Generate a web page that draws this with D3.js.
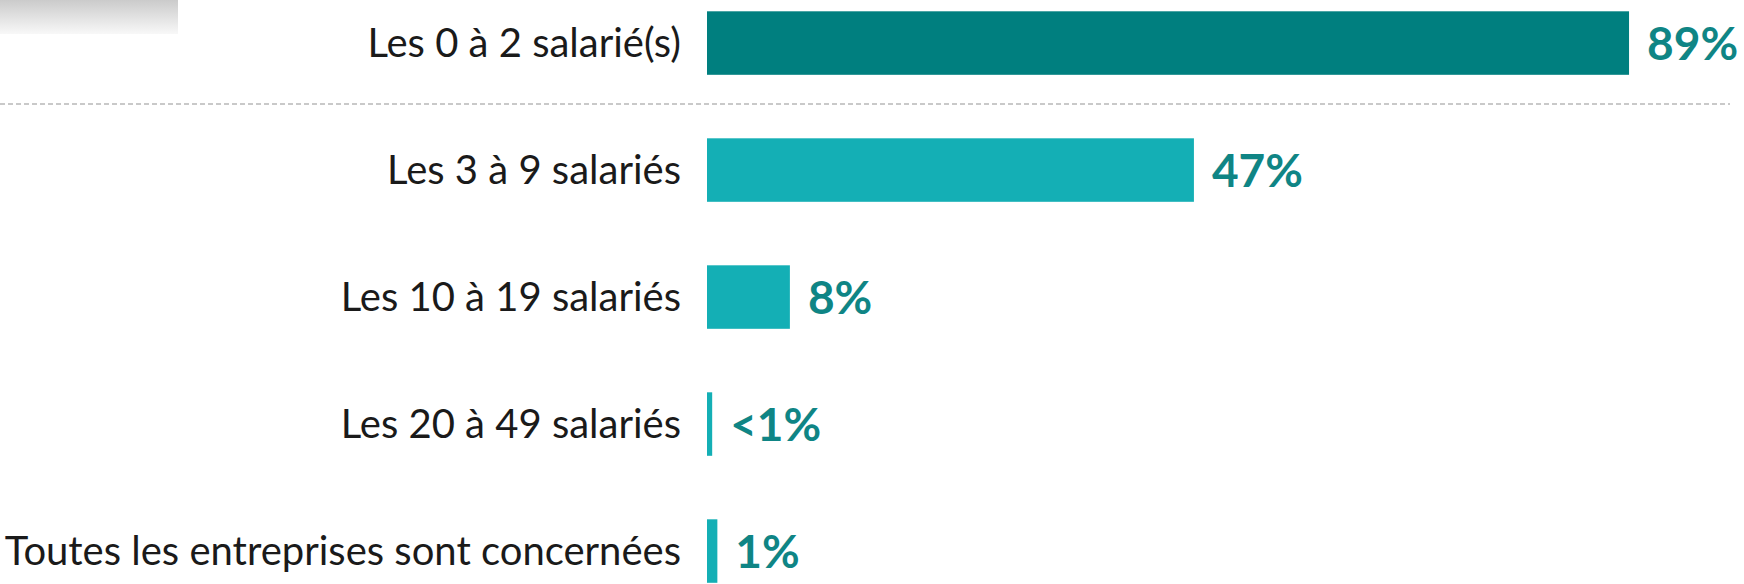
<!DOCTYPE html>
<html>
<head>
<meta charset="utf-8">
<script src="https://cdn.jsdelivr.net/npm/d3@7"></script>
<style>
    html, body { margin: 0; padding: 0; background: #fff; }
    svg { display: block; }
</style>
</head>
<body>
<div id="chart"></div>
<script>
const categories = [
    'Les 0 à 2 salarié(s)',
    'Les 3 à 9 salariés',
    'Les 10 à 19 salariés',
    'Les 20 à 49 salariés',
    'Toutes les entreprises sont concernées'
];
const values = [89, 47, 8, 0.5, 1];
const valueLabels = ['89%', '47%', '8%', '<1%', '1%'];

const width = 1744;
const height = 584;

const svg = d3.select('#chart')
    .append('svg')
    .attr('width', width)
    .attr('height', height);

// faded grey patch at top left
const grad = svg.append('defs').append('linearGradient')
    .attr('id', 'fade')
    .attr('x1', 0).attr('y1', 0).attr('x2', 0).attr('y2', 1);
grad.append('stop').attr('offset', '0%').attr('stop-color', '#cbcbcb');
grad.append('stop').attr('offset', '100%').attr('stop-color', '#f8f8f8');
svg.append('rect')
    .attr('x', 0).attr('y', 0)
    .attr('width', 178).attr('height', 34)
    .attr('fill', 'url(#fade)');

const x = d3.scaleLinear()
    .domain([0, 100])
    .range([707, 1743]);

const y = d3.scaleBand()
    .domain(categories)
    .range([11.3, 582.8])
    .paddingInner(0.5)
    .paddingOuter(0);

// dashed separator below first row
svg.append('line')
    .attr('x1', 0)
    .attr('x2', 1730)
    .attr('y1', 104)
    .attr('y2', 104)
    .attr('stroke', '#b8b8b8')
    .attr('stroke-width', 1.5)
    .attr('stroke-dasharray', '5,3');

const rows = categories.map((c, i) => ({cat: c, value: values[i], label: valueLabels[i], i: i}));

svg.selectAll('rect.bar')
    .data(rows)
    .join('rect')
    .attr('class', 'bar')
    .attr('x', x(0))
    .attr('y', d => y(d.cat))
    .attr('width', d => x(d.value) - x(0))
    .attr('height', y.bandwidth())
    .attr('fill', d => d.i === 0 ? '#007f7f' : '#14afb5');

svg.selectAll('text.cat')
    .data(rows)
    .join('text')
    .attr('class', 'cat')
    .attr('x', 681)
    .attr('y', d => y(d.cat) + y.bandwidth() / 2)
    .attr('dy', '0.35em')
    .attr('text-anchor', 'end')
    .attr('font-family', 'Lato, "Open Sans", sans-serif')
    .attr('font-size', 40)
    .attr('fill', '#1a1a1a')
    .text(d => d.cat);

svg.selectAll('text.val')
    .data(rows)
    .join('text')
    .attr('class', 'val')
    .attr('x', d => x(d.value) + 18)
    .attr('y', d => y(d.cat) + y.bandwidth() / 2)
    .attr('dy', '0.36em')
    .attr('font-family', 'Lato, "Open Sans", sans-serif')
    .attr('font-weight', 'bold')
    .attr('font-size', 46)
    .attr('fill', '#0f8585')
    .text(d => d.label);
</script>
</body>
</html>
